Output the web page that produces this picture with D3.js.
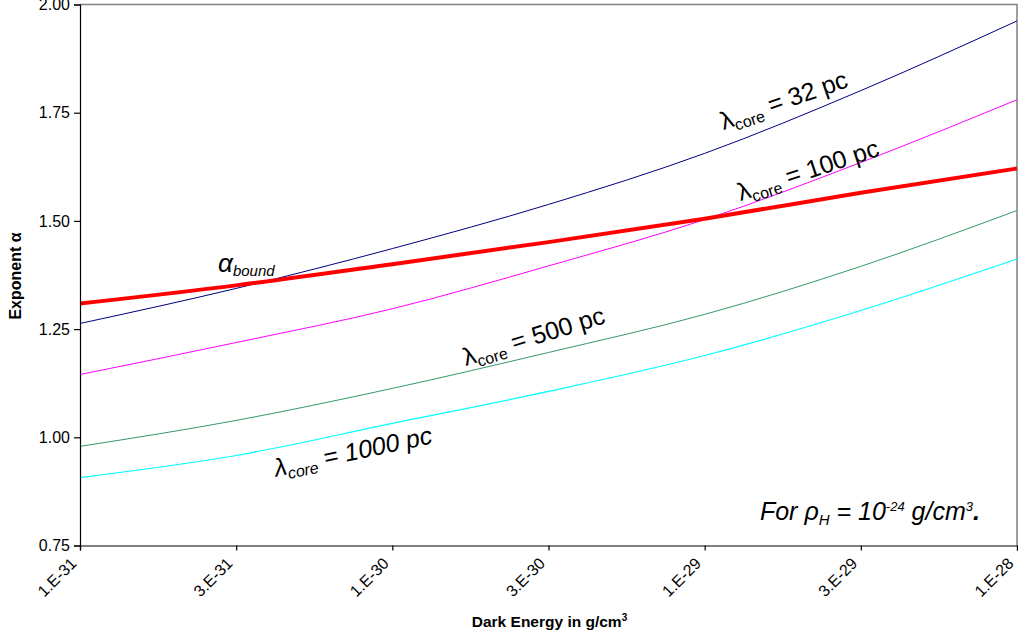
<!DOCTYPE html>
<html>
<head>
<meta charset="utf-8">
<script src="https://cdn.jsdelivr.net/npm/d3@7"></script>
<style>
	body { margin: 0; background: #fff; }
	svg { display: block; font-family: "Liberation Sans", Arial, sans-serif; }
</style>
</head>
<body>
<svg id="chart" width="1018" height="640"></svg>
<script>
// dark energy density categories (evenly spaced in the original)
var categories	=	['1.E-31', '3.E-31', '1.E-30', '3.E-30', '1.E-29', '3.E-29', '1.E-28'];
var yTicks		=	[0.75, 1.00, 1.25, 1.50, 1.75, 2.00];

var core32		=	[1.263, 1.344, 1.436, 1.538, 1.656, 1.801, 1.962];
var core100		=	[1.145, 1.219, 1.297, 1.396, 1.503, 1.635, 1.780];
var alphaBound	=	[1.309, 1.351, 1.400, 1.451, 1.505, 1.565, 1.621];
var core500		=	[0.979, 1.039, 1.113, 1.196, 1.284, 1.395, 1.524];
var core1000	=	[0.907, 0.958, 1.032, 1.106, 1.189, 1.293, 1.412];

var series = [
	{ name: 'core32',   values: core32,     color: '#000080', width: 1 },
	{ name: 'core100',  values: core100,    color: '#ff00ff', width: 1 },
	{ name: 'core500',  values: core500,    color: '#339966', width: 1 },
	{ name: 'core1000', values: core1000,   color: '#00ffff', width: 1.2 },
	{ name: 'bound',    values: alphaBound, color: '#ff0000', width: 4 }
];

var pLeft = 80, pRight = 1017, pTop = 4.5, pBottom = 545.5;

var svg = d3.select('#chart');

var x = d3.scalePoint().domain(categories).range([pLeft, pRight]).padding(0);
// fractional position along the category axis, for annotations
var xi = d3.scaleLinear().domain([0, categories.length - 1]).range([pLeft, pRight]);
var y = d3.scaleLinear().domain([0.75, 2]).range([pBottom, pTop]);

// plot frame (top / right in grey)
svg.append('path')
	.attr('d', 'M' + pLeft + ',' + pTop + 'H' + pRight + 'V' + pBottom)
	.attr('fill', 'none')
	.attr('stroke', '#808080')
	.attr('stroke-width', 1.5);

var line = d3.line()
	.x(function(d, i) { return x(categories[i]); })
	.y(function(d) { return y(d); })
	.curve(d3.curveMonotoneX);

svg.append('g')
	.selectAll('path')
	.data(series)
	.enter().append('path')
	.attr('d', function(d) { return line(d.values); })
	.attr('fill', 'none')
	.attr('stroke', function(d) { return d.color; })
	.attr('stroke-width', function(d) { return d.width; });

// axes
var yAxis = svg.append('g')
	.attr('transform', 'translate(' + pLeft + ',0)')
	.call(d3.axisLeft(y).tickValues(yTicks).tickFormat(d3.format('.2f')).tickSizeOuter(0).tickSize(6).tickPadding(4));

yAxis.selectAll('text').attr('font-size', 16).attr('fill', '#000').attr('font-family', 'Liberation Sans, Arial, sans-serif');

var xAxis = svg.append('g')
	.attr('transform', 'translate(0,' + pBottom + ')')
	.call(d3.axisBottom(x).tickSizeOuter(0).tickSize(5));

xAxis.selectAll('text')
	.attr('font-size', 16)
	.attr('fill', '#000')
	.attr('font-family', 'Liberation Sans, Arial, sans-serif')
	.attr('text-anchor', 'end')
	.attr('dy', null)
	.attr('y', 0)
	.attr('transform', 'translate(-3,19) rotate(-45)');

svg.selectAll('.domain, .tick line').attr('stroke', '#000').attr('stroke-width', 1.2);

// axis titles
svg.append('text')
	.attr('x', (pLeft + pRight) / 2 + 1)
	.attr('y', 627)
	.attr('text-anchor', 'middle')
	.attr('font-size', 15.5)
	.attr('font-weight', 'bold')
	.html('Dark Energy in g/cm<tspan font-size="10" dy="-6">3</tspan>');

svg.append('text')
	.attr('transform', 'translate(21,' + 276 + ') rotate(-90)')
	.attr('text-anchor', 'middle')
	.attr('font-size', 16)
	.attr('font-weight', 'bold')
	.text('Exponent \u03b1');

// curve annotations
function lambdaLabel(idx, val, angle, rest, italic) {
	var t = svg.append('text')
		.attr('transform', 'translate(' + xi(idx) + ',' + y(val) + ') rotate(' + angle + ')')
		.attr('font-size', 25)
		.attr('font-style', italic ? 'italic' : 'normal');
	t.append('tspan').text('\u03bb');
	t.append('tspan').attr('font-size', 16).attr('dy', 5).text('core');
	t.append('tspan').attr('dy', -5).text(' ' + rest);
}

lambdaLabel(4.12, 1.710, -19, '= 32 pc', false);
lambdaLabel(4.23, 1.546, -18, '= 100 pc', false);
lambdaLabel(2.47, 1.165, -17, '= 500 pc', false);
lambdaLabel(1.255, 0.909, -12, '= 1000 pc', true);

var ab = svg.append('text')
	.attr('x', xi(0.884))
	.attr('y', y(1.382))
	.attr('font-style', 'italic')
	.attr('font-size', 26);
ab.append('tspan').text('\u03b1');
ab.append('tspan').attr('font-size', 15).attr('dy', 4).text('bound');

var note = svg.append('text')
	.attr('x', xi(4.354))
	.attr('y', y(0.809))
	.attr('font-style', 'italic')
	.attr('font-size', 25);
note.append('tspan').text('For \u03c1');
note.append('tspan').attr('font-size', 15).attr('dy', 5).text('H');
note.append('tspan').attr('dy', -5).text(' = 10');
note.append('tspan').attr('font-size', 13).attr('dy', -9).text('-24');
note.append('tspan').attr('dy', 9).text(' g/cm');
note.append('tspan').attr('font-size', 13).attr('dy', -9).text('3');
note.append('tspan').attr('dy', 9).attr('font-weight', 'bold').text('.');
</script>
</body>
</html>
